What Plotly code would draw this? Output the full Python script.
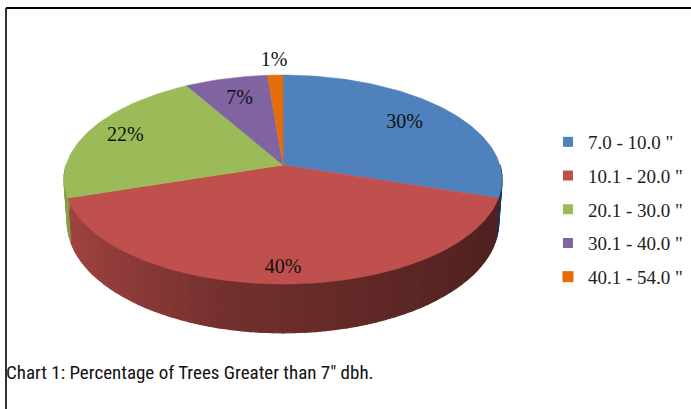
import math
import plotly.graph_objects as go

categories = ['7.0 - 10.0 "', '10.1 - 20.0 "', '20.1 - 30.0 "', '30.1 - 40.0 "', '40.1 - 54.0 "']
values = [30, 40, 21.7, 7, 1.3]
colors = ["#4F81BD", "#C0504D", "#9BBB59", "#8064A2", "#E46C0A"]
label_radius = [0.735, 0.885, 0.81, 0.74, 1.18]
caption = 'Chart 1: Percentage of Trees Greater than 7" dbh.'

# projection of the tilted disc (plot area in pixels)
CX, CY, A, B, K, H, SHRINK = 283, 165, 216.9, 102.5, 0.139, 42, 0.985


def project(theta, r=1.0):
    s, c = math.sin(theta) * r, math.cos(theta) * r
    w = 1 + K * c
    return CX + A * s / w, CY - B * c / w


def lower(theta):
    x, y = project(theta)
    return CX + (x - CX) * SHRINK, y + H / (1 + K * math.cos(theta))


def shade(hex_color, f):
    r, g, b = (int(hex_color[i:i + 2], 16) for i in (1, 3, 5))
    return f"rgb({r * f:.0f},{g * f:.0f},{b * f:.0f})"


fig = go.Figure()
total = sum(values)
edges = [0.0]
for v in values:
    edges.append(edges[-1] + v / total * 2 * math.pi)

# side wall, drawn first so the top covers everything behind it
STEP = math.radians(2.5)
for i, color in enumerate(colors):
    t0, t1 = max(edges[i], math.pi / 2), min(edges[i + 1], 3 * math.pi / 2)
    if t1 <= t0:
        continue
    n = max(1, round((t1 - t0) / STEP))
    for j in range(n):
        a, b = t0 + (t1 - t0) * j / n, t0 + (t1 - t0) * (j + 1) / n
        mid = math.sin((a + b) / 2)
        f = 0.56 - 0.16 * mid if mid > -0.2 else 0.59 + 0.26 * (-mid - 0.2) / 0.8
        col = shade(color, f)
        xa, ya = project(a)
        xb, yb = project(b)
        xc, yc = lower(b)
        xd, yd = lower(a)
        fig.add_trace(go.Scatter(
            x=[xa, xb, xc, xd, xa], y=[ya, yb, yc, yd, ya], mode="lines",
            fill="toself", fillcolor=col, line=dict(color=col, width=1.2),
            hoverinfo="skip", showlegend=False))

# top face
for i, color in enumerate(colors):
    n = max(2, int((edges[i + 1] - edges[i]) / math.radians(1)))
    xs, ys = [CX], [CY]
    for j in range(n + 1):
        x, y = project(edges[i] + (edges[i + 1] - edges[i]) * j / n)
        xs.append(x)
        ys.append(y)
    xs.append(CX)
    ys.append(CY)
    fig.add_trace(go.Scatter(
        x=xs, y=ys, mode="lines", fill="toself", fillcolor=color,
        line=dict(color=color, width=0.5), name=categories[i],
        hoverinfo="name", showlegend=False))

# percentage labels
lx, ly, lt = [], [], []
for i, v in enumerate(values):
    x, y = project((edges[i] + edges[i + 1]) / 2, label_radius[i])
    lx.append(x)
    ly.append(y)
    lt.append(f"{v / total * 100:.0f}%")
fig.add_trace(go.Scatter(
    x=lx, y=ly, text=lt, mode="text", textposition="middle center",
    textfont=dict(family="Liberation Serif", size=20, color="#111111"),
    hoverinfo="skip", showlegend=False))

# legend entries
for i, c in enumerate(categories):
    fig.add_trace(go.Scatter(
        x=[None], y=[None], mode="markers", name=c, legendgroup=c,
        marker=dict(symbol="square", size=11 if i == 4 else 10, color=colors[i])))

fig.update_layout(
    width=691, height=409, margin=dict(l=0, r=0, t=0, b=0),
    paper_bgcolor="white", plot_bgcolor="white",
    xaxis=dict(range=[0, 691], visible=False, fixedrange=True),
    yaxis=dict(range=[409, 0], visible=False, fixedrange=True),
    legend=dict(x=0.793, y=1 - 209.5 / 409, xanchor="left", yanchor="middle",
                font=dict(family="Liberation Serif", size=19, color="#222222"),
                tracegroupgap=6, traceorder="grouped", itemsizing="trace",
                itemwidth=30, bgcolor="rgba(0,0,0,0)"),
    shapes=[
        dict(type="line", xref="paper", yref="paper", x0=6 / 691, x1=1, y0=1 - 8 / 409, y1=1 - 8 / 409,
             line=dict(color="black", width=2)),
        dict(type="line", xref="paper", yref="paper", x0=6 / 691, x1=6 / 691, y0=0, y1=1 - 8 / 409,
             line=dict(color="#333333", width=2)),
    ],
    annotations=[dict(text=caption, xref="paper", yref="paper", x=6 / 691, y=1 - 372 / 409,
                      xanchor="left", yanchor="middle", showarrow=False, xshift=-2,
                      font=dict(family="Roboto Condensed, Liberation Sans Narrow, DejaVu Sans Condensed, sans-serif",
                                size=19, color="#111111"))],
)
fig.write_html("out.html", config={"displayModeBar": False},
               post_script="document.body.style.margin='0';document.documentElement.style.overflow='hidden';")
